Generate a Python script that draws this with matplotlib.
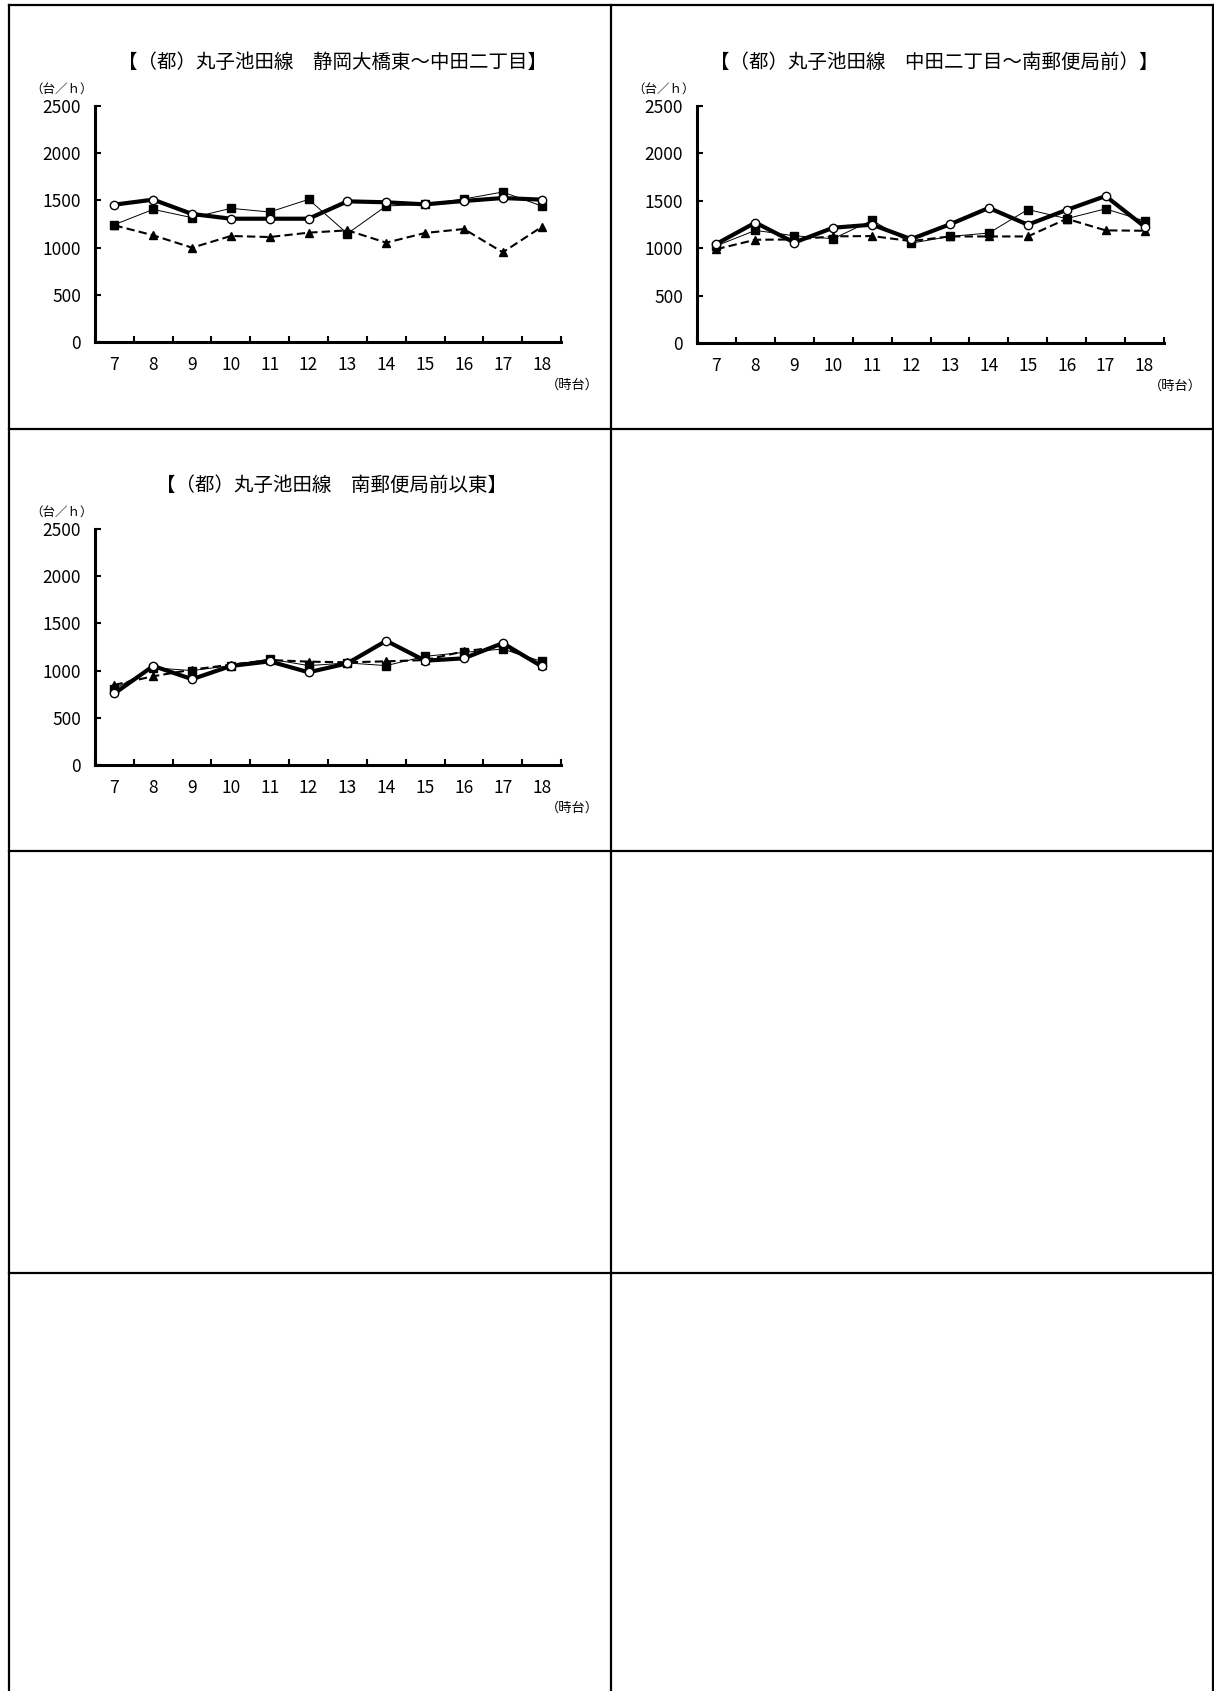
# 丸子池田線 時間帯別交通量グラフ（3区間）
import matplotlib
matplotlib.use("Agg")
import matplotlib.pyplot as plt
from matplotlib.lines import Line2D

plt.rcParams["font.family"] = ["Noto Sans CJK JP", "DejaVu Sans"]

W, H = 1214, 1691

hours = ["7", "8", "9", "10", "11", "12", "13", "14", "15", "16", "17", "18"]

# 区間1：静岡大橋東～中田二丁目
title1 = "【（都）丸子池田線　静岡大橋東～中田二丁目】"
sq1 = [1243, 1405, 1317, 1416, 1377, 1511, 1148, 1441, 1458, 1515, 1589, 1441]
tri1 = [1236, 1130, 999, 1123, 1112, 1158, 1183, 1052, 1155, 1197, 950, 1218]
circ1 = [1455, 1508, 1356, 1306, 1306, 1306, 1490, 1480, 1458, 1494, 1525, 1508]

# 区間2：中田二丁目～南郵便局前
title2 = "【（都）丸子池田線　中田二丁目～南郵便局前）】"
sq2 = [1025, 1188, 1131, 1100, 1294, 1053, 1124, 1160, 1408, 1312, 1415, 1287]
tri2 = [990, 1089, 1092, 1125, 1128, 1075, 1124, 1124, 1124, 1310, 1188, 1184]
circ2 = [1046, 1270, 1060, 1216, 1248, 1096, 1252, 1425, 1248, 1404, 1550, 1228]

# 区間3：南郵便局前以東
title3 = "【（都）丸子池田線　南郵便局前以東】"
sq3 = [807, 1030, 1000, 1053, 1123, 1053, 1081, 1053, 1151, 1193, 1228, 1098]
tri3 = [849, 940, 1010, 1063, 1112, 1095, 1088, 1098, 1112, 1204, 1256, 1060]
circ3 = [758, 1049, 909, 1049, 1098, 982, 1077, 1316, 1105, 1130, 1291, 1046]

yticks = [0, 500, 1000, 1500, 2000, 2500]


def fx(px):
    return px / W


def fy(py):
    return 1 - py / H


def draw_chart(fig, left, top, right, bottom, title, sq, tri, circ):
    ax = fig.add_axes([fx(left), fy(bottom), fx(right - left), (bottom - top) / H])
    x = list(range(len(hours)))
    ax.plot(x, tri, color="black", lw=1.5, linestyle=(0, (4, 2)),
            marker="^", ms=6, mfc="black", mec="black", zorder=2)
    ax.plot(x, sq, color="black", lw=0.7, marker="s", ms=5.5,
            mfc="black", mec="black", zorder=3)
    ax.plot(x, circ, color="black", lw=3, marker="o", ms=6,
            mfc="white", mec="black", mew=1, zorder=4)

    ax.set_xlim(-0.5, len(hours) - 0.5)
    ax.set_ylim(0, 2500)
    ax.set_yticks(yticks)
    ax.set_yticklabels([str(v) for v in yticks])
    ax.set_xticks([i - 0.5 for i in range(len(hours) + 1)])
    ax.set_xticklabels([])
    ax.set_xticks(x, minor=True)
    ax.set_xticklabels(hours, minor=True)
    ax.tick_params(axis="both", which="major", direction="in", length=4,
                   width=1.5, labelsize=12.5)
    ax.tick_params(axis="y", pad=10)
    ax.tick_params(axis="x", which="minor", length=0, pad=10, labelsize=12.5)
    for s in ["top", "right"]:
        ax.spines[s].set_visible(False)
    for s in ["left", "bottom"]:
        ax.spines[s].set_linewidth(2.2)
    ax.patch.set_alpha(0)

    cx = (left + right) / 2 + 4
    fig.text(fx(cx), fy(top - 44), title, ha="center", va="center", fontsize=14)
    fig.text(fx(left - 33), fy(top - 17), "（台／ｈ）", ha="center", va="center",
             fontsize=9)
    fig.text(fx(right + 38), fy(bottom + 43), "（時台）", ha="right", va="center",
             fontsize=9.5)
    return ax


def draw_frame(fig):
    lw = 1.6
    segs = [
        ((9, 5), (1213, 5)),
        ((9, 5), (9, H)),
        ((1213, 5), (1213, H)),
        ((611, 5), (611, H)),
        ((9, 429), (1213, 429)),
        ((9, 851), (1213, 851)),
        ((9, 1273), (1213, 1273)),
    ]
    for (x0, y0), (x1, y1) in segs:
        fig.add_artist(Line2D([fx(x0), fx(x1)], [fy(y0), fy(y1)],
                              color="black", lw=lw))


def main():
    fig = plt.figure(figsize=(W / 100, H / 100), dpi=100)
    draw_frame(fig)
    draw_chart(fig, 95, 106, 561, 342, title1, sq1, tri1, circ1)
    draw_chart(fig, 697, 106, 1164, 343, title2, sq2, tri2, circ2)
    draw_chart(fig, 95, 529, 561, 765, title3, sq3, tri3, circ3)
    fig.savefig("out.png", dpi=100, facecolor="white")
    plt.close(fig)


if __name__ == "__main__":
    main()
